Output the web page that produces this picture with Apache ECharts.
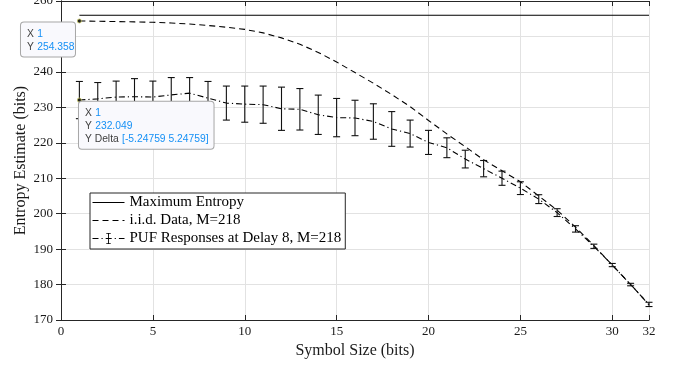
<!DOCTYPE html>
<html>
<head>
<meta charset="utf-8">
<style>
  html, body { margin: 0; padding: 0; background: #fff; }
  #chart { width: 678px; height: 366px; }
</style>
<script src="https://cdn.jsdelivr.net/npm/echarts@6/dist/echarts.min.js"></script>
</head>
<body>
<div id="chart"></div>
<script>
// Symbol sizes (bits)
const symbolSizes = [1, 2, 3, 4, 5, 6, 7, 8, 9, 10, 11, 12, 13, 14, 15, 16,
  17, 18, 19, 20, 21, 22, 23, 24, 25, 26, 27, 28, 29, 30, 31, 32];

// Maximum entropy (bits)
const maxEntropy = [256, 256, 256, 256, 256, 256, 256, 256, 256, 256, 256, 256, 256, 256, 256, 256,
  256, 256, 256, 256, 256, 256, 256, 256, 256, 256, 256, 256, 256, 256, 256, 256];

// Entropy estimate of i.i.d. data, M=218
const iidEntropy = [254.358, 254.3, 254.2, 254.1, 254.0, 253.8, 253.5, 253.1, 252.6, 252.0, 251.0,
  249.6, 247.8, 245.5, 242.8, 239.8, 236.8, 233.6, 230.2, 226.3, 222.5, 218.9, 215.2, 212.1,
  209.0, 205.0, 201.0, 196.2, 191.0, 185.5, 180.0, 174.3];

// Entropy estimate of PUF responses at delay 8, M=218 (mean and symmetric error)
const pufMean = [232.049, 232.4, 232.9, 233.0, 232.9, 233.5, 234.0, 232.6, 231.2, 230.9, 230.75,
  229.6, 229.45, 227.9, 227.1, 227.0, 226.0, 223.9, 222.6, 220.1, 218.6, 215.4, 212.7, 210.0,
  207.2, 204.1, 200.3, 195.7, 190.8, 185.5, 180.0, 174.4];
const pufError = [5.24759, 4.6, 4.5, 5.1, 4.5, 4.9, 4.4, 4.7, 4.8, 5.1, 5.25, 6.1, 5.85, 5.55,
  5.4, 5.0, 5.0, 4.9, 3.8, 3.4, 2.8, 2.5, 2.3, 2.0, 1.8, 1.25, 1.1, 0.9, 0.6, 0.45, 0.35, 0.6];

// Axis ticks
const xTicks = { min: 0, max: 32, interval: 5 };
const yTicks = { min: 170, max: 260, interval: 10 };

const seriesNames = ['Maximum Entropy', 'i.i.d. Data, M=218', 'PUF Responses at Delay 8, M=218'];

const SERIF = '"Liberation Serif", "Times New Roman", serif';
const SANS = '"Liberation Sans", Arial, sans-serif';
const INK = '#1a1a1a';
const AXIS = '#262626';
const GRID = '#e2e2e2';
const TIP_FONT = 10.3;
const TIP_LINE = 13;

const pair = (xs, ys) => xs.map((x, i) => [x, ys[i]]);
const errorRanges = symbolSizes.map((x, i) => [x, pufMean[i] - pufError[i], pufMean[i] + pufError[i]]);

// Filled I-beam glyph used as the legend marker of the error-bar series
const IBEAM = 'path://M0,0L0,0Z M20,20L20,20Z M6,0H14V1.6H10.8V18.4H14V20H6V18.4H9.2V1.6H6Z';

// Data-tip style callout: light box, grey keys, blue values
function datatipLabel(lines, position, width) {
  const label = {
    show: true,
    position: position,
    align: 'left',
    verticalAlign: 'top',
    formatter: lines.join('\n'),
    backgroundColor: '#f9f9fd',
    borderColor: '#a6a6a6',
    borderWidth: 1,
    borderRadius: 3,
    padding: [5, 5, 3, 6],
    lineHeight: TIP_LINE,
    rich: {
      k: { fontFamily: SANS, fontSize: TIP_FONT, color: '#404040', lineHeight: TIP_LINE },
      v: { fontFamily: SANS, fontSize: TIP_FONT, color: '#1590f5', lineHeight: TIP_LINE }
    }
  };
  if (width) label.width = width;
  return label;
}

const baseX = {
  type: 'value',
  min: xTicks.min, max: xTicks.max, interval: xTicks.interval
};
const baseY = {
  type: 'value',
  min: yTicks.min, max: yTicks.max, interval: yTicks.interval
};

const option = {
  animation: false,
  backgroundColor: '#ffffff',
  grid: { left: 61, right: 29, top: 1, bottom: 46, containLabel: false, outerBoundsMode: 'none' },
  xAxis: [
    Object.assign({}, baseX, {
      position: 'bottom',
      name: 'Symbol Size (bits)',
      nameLocation: 'middle',
      nameGap: 23,
      nameMoveOverlap: false,
      nameTextStyle: { fontFamily: SERIF, fontSize: 16, color: INK },
      axisLine: { show: true, lineStyle: { color: AXIS, width: 1 } },
      axisTick: { show: true, inside: true, length: 5, lineStyle: { color: AXIS } },
      axisLabel: { fontFamily: SERIF, fontSize: 13, color: INK, margin: 5, showMaxLabel: true, showMinLabel: true },
      splitLine: { show: true, lineStyle: { color: GRID, width: 1 } }
    }),
    Object.assign({}, baseX, {
      position: 'top',
      axisLine: { show: true, lineStyle: { color: AXIS, width: 1 } },
      axisTick: { show: true, inside: true, length: 5, lineStyle: { color: AXIS } },
      axisLabel: { show: false },
      splitLine: { show: false }
    })
  ],
  yAxis: [
    Object.assign({}, baseY, {
      position: 'left',
      name: 'Entropy Estimate (bits)',
      nameLocation: 'middle',
      nameGap: 32,
      nameMoveOverlap: false,
      nameTextStyle: { fontFamily: SERIF, fontSize: 16, color: INK },
      axisLine: { show: true, lineStyle: { color: AXIS, width: 1 } },
      axisTick: { show: true, inside: true, length: 5, lineStyle: { color: AXIS } },
      axisLabel: { fontFamily: SERIF, fontSize: 13, color: INK, margin: 8 },
      splitLine: { show: true, lineStyle: { color: GRID, width: 1 } }
    }),
    Object.assign({}, baseY, {
      position: 'right',
      axisLine: { show: true, lineStyle: { color: AXIS, width: 1 } },
      axisTick: { show: true, inside: true, length: 5, lineStyle: { color: AXIS } },
      axisLabel: { show: false },
      splitLine: { show: false }
    })
  ],
  legend: {
    orient: 'vertical',
    left: 90,
    top: 193,
    data: [
      { name: seriesNames[0] },
      { name: seriesNames[1] },
      { name: seriesNames[2], itemStyle: { color: '#000', borderWidth: 0 } }
    ],
    backgroundColor: '#ffffff',
    borderColor: '#262626',
    borderWidth: 1,
    borderRadius: 0,
    padding: [1, 4, 2, 2],
    itemGap: 1,
    itemWidth: 32,
    itemHeight: 14,
    itemTextGap: 2,
    selectedMode: false,
    itemStyle: { color: 'transparent', borderWidth: 0 },
    lineStyle: { width: 1 },
    textStyle: { fontFamily: SERIF, fontSize: 15, color: '#000', lineHeight: 17 }
  },
  series: [
    {
      name: seriesNames[0],
      type: 'line',
      data: pair(symbolSizes, maxEntropy),
      symbol: 'none',
      lineStyle: { color: '#000', width: 1.1, type: 'solid' },
      itemStyle: { color: '#000' },
      z: 3
    },
    {
      name: seriesNames[1],
      type: 'line',
      data: pair(symbolSizes, iidEntropy),
      symbol: 'none',
      lineStyle: { color: '#000', width: 1.1, type: [6, 4] },
      itemStyle: { color: '#000' },
      z: 3,
      markPoint: {
        z: 20,
        symbol: 'circle',
        symbolSize: 4,
        itemStyle: { color: '#202020', borderColor: '#c8c860', borderWidth: 0.8 },
        data: [{
          coord: [symbolSizes[0], iidEntropy[0]],
          label: datatipLabel([
            '{k|X} {v|' + symbolSizes[0] + '}',
            '{k|Y} {v|' + iidEntropy[0] + '}'
          ], [-56, 4], 43)
        }]
      }
    },
    {
      name: seriesNames[2],
      type: 'line',
      data: pair(symbolSizes, pufMean),
      symbol: IBEAM,
      showSymbol: false,
      lineStyle: { color: '#000', width: 1.1, type: [6, 3, 1.2, 3] },
      itemStyle: { color: '#000' },
      z: 3,
      markPoint: {
        z: 20,
        symbol: 'circle',
        symbolSize: 4,
        itemStyle: { color: '#202020', borderColor: '#c8c860', borderWidth: 0.8 },
        data: [{
          coord: [symbolSizes[0], pufMean[0]],
          label: datatipLabel([
            '{k|X} {v|' + symbolSizes[0] + '}',
            '{k|Y} {v|' + pufMean[0] + '}',
            '{k|Y Delta} {v|[-' + pufError[0] + ' ' + pufError[0] + ']}'
          ], [2, 4])
        }]
      }
    },
    {
      name: 'PUF error bars',
      type: 'custom',
      data: errorRanges,
      z: 4,
      silent: true,
      renderItem: function (params, api) {
        const x = api.value(0);
        const lo = api.coord([x, api.value(1)]);
        const hi = api.coord([x, api.value(2)]);
        const cap = 3.5;
        const style = { stroke: '#111', lineWidth: 1.1 };
        return {
          type: 'group',
          children: [
            { type: 'line', shape: { x1: lo[0], y1: lo[1], x2: hi[0], y2: hi[1] }, style: style },
            { type: 'line', shape: { x1: hi[0] - cap, y1: hi[1], x2: hi[0] + cap, y2: hi[1] }, style: style },
            { type: 'line', shape: { x1: lo[0] - cap, y1: lo[1], x2: lo[0] + cap, y2: lo[1] }, style: style }
          ]
        };
      }
    }
  ]
};

const chart = echarts.init(document.getElementById('chart'), null, { renderer: 'canvas' });
chart.setOption(option);
</script>
</body>
</html>
